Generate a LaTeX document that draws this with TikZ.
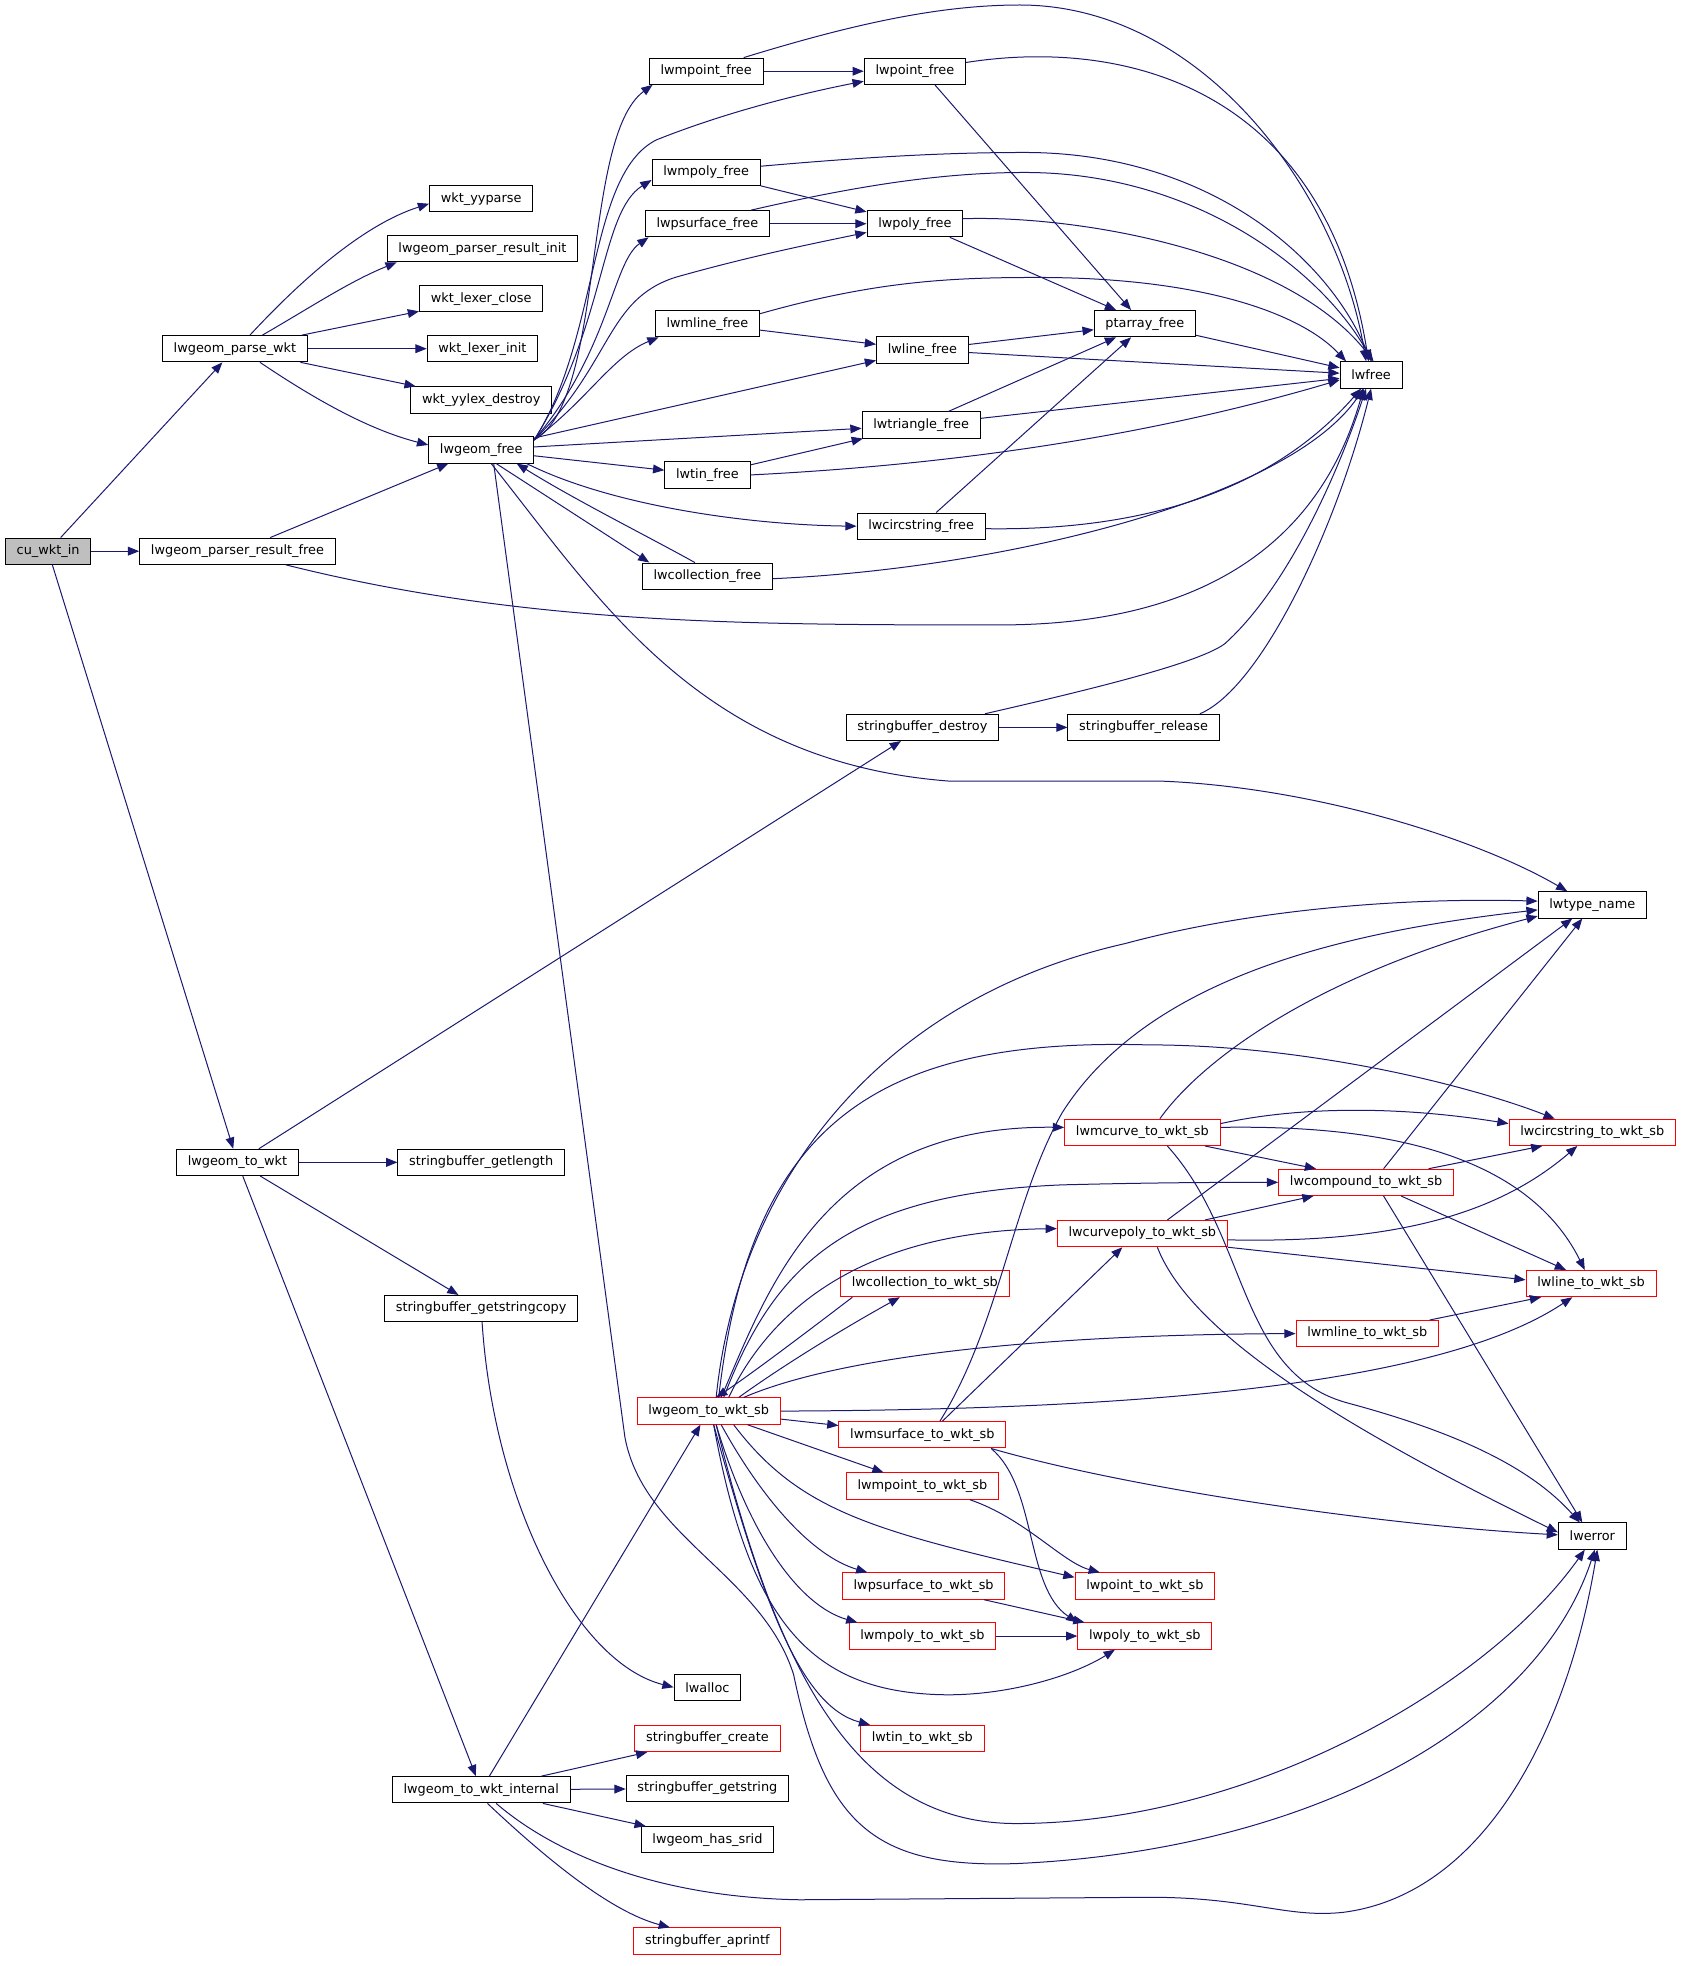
\documentclass[tikz,border=0pt]{standalone}
\usepackage{fontspec}
\setmainfont{DejaVu Sans}
\usepackage{xcolor}
\usetikzlibrary{arrows.meta}
\definecolor{midnightblue}{HTML}{191970}
\tikzset{
  fn/.style={ % a function box of the call graph
    draw=black, fill=white, rectangle, line width=0.8pt,
    inner xsep=9pt, inner ysep=0pt, minimum height=21pt,
    text=black, font=\fontsize{10.3}{12}\selectfont
  },
  redfn/.style={fn, draw=red},  % box of a function with more calls not shown
  rootfn/.style={fn, fill=gray!50},
  calls/.style={
    midnightblue, line width=0.8pt,
    -{Triangle[length=9pt,width=7pt]}
  }
}
\begin{document}
\begin{tikzpicture}[x=1pt, y=-1pt]
  \useasboundingbox (0,0) rectangle (1350,1573);

  % nodes
  \node[rootfn] (cu) at (38.5,441) {cu\_wkt\_in};
  \node[fn] (parsewkt) at (188,279) {lwgeom\_parse\_wkt};
  \node[fn] (prfree) at (190,441) {lwgeom\_parser\_result\_free};
  \node[fn] (towkt) at (190,930) {lwgeom\_to\_wkt};
  \node[fn] (yyparse) at (385,159) {wkt\_yyparse};
  \node[fn] (prinit) at (386,199) {lwgeom\_parser\_result\_init};
  \node[fn] (lexclose) at (385,239) {wkt\_lexer\_close};
  \node[fn] (lexinit) at (386,279) {wkt\_lexer\_init};
  \node[fn] (yylexdestroy) at (385,320) {wkt\_yylex\_destroy};
  \node[fn] (gfree) at (385,360) {lwgeom\_free};
  \node[fn] (getlength) at (385,930) {stringbuffer\_getlength};
  \node[fn] (getstrcopy) at (385,1047) {stringbuffer\_getstringcopy};
  \node[fn] (towktint) at (385,1432) {lwgeom\_to\_wkt\_internal};
  \node[fn] (mpointfree) at (565,57) {lwmpoint\_free};
  \node[fn] (mpolyfree) at (565,138) {lwmpoly\_free};
  \node[fn] (psurffree) at (566,179) {lwpsurface\_free};
  \node[fn] (mlinefree) at (566,259) {lwmline\_free};
  \node[fn] (tinfree) at (566,380) {lwtin\_free};
  \node[fn] (collfree) at (566,461) {lwcollection\_free};
  \node[redfn] (towktsb) at (567,1129) {lwgeom\_to\_wkt\_sb};
  \node[fn] (lwalloc) at (566,1350) {lwalloc};
  \node[redfn] (sbcreate) at (566,1391) {stringbuffer\_create};
  \node[fn] (getstring) at (566,1431) {stringbuffer\_getstring};
  \node[fn] (hassrid) at (566,1472) {lwgeom\_has\_srid};
  \node[redfn] (aprintf) at (566,1553) {stringbuffer\_aprintf};
  \node[fn] (pointfree) at (732,57) {lwpoint\_free};
  \node[fn] (polyfree) at (732,179) {lwpoly\_free};
  \node[fn] (linefree) at (738,280) {lwline\_free};
  \node[fn] (trifree) at (737,340) {lwtriangle\_free};
  \node[fn] (circfree) at (737,421) {lwcircstring\_free};
  \node[fn] (sbdestroy) at (738,582) {stringbuffer\_destroy};
  \node[fn] (sbrelease) at (915,582) {stringbuffer\_release};
  \node[redfn] (collwkt) at (740,1027) {lwcollection\_to\_wkt\_sb};
  \node[redfn] (msurfwkt) at (738,1148) {lwmsurface\_to\_wkt\_sb};
  \node[redfn] (mpointwkt) at (738,1189) {lwmpoint\_to\_wkt\_sb};
  \node[redfn] (psurfwkt) at (739,1269) {lwpsurface\_to\_wkt\_sb};
  \node[redfn] (mpolywkt) at (738,1309) {lwmpoly\_to\_wkt\_sb};
  \node[redfn] (tinwkt) at (738,1391) {lwtin\_to\_wkt\_sb};
  \node[redfn] (mcurvewkt) at (914,906) {lwmcurve\_to\_wkt\_sb};
  \node[redfn] (cpolywkt) at (914,987) {lwcurvepoly\_to\_wkt\_sb};
  \node[fn] (ptarray) at (916,259) {ptarray\_free};
  \node[redfn] (pointwkt) at (916,1269) {lwpoint\_to\_wkt\_sb};
  \node[redfn] (polywkt) at (916,1309) {lwpoly\_to\_wkt\_sb};
  \node[redfn] (compwkt) at (1093,946) {lwcompound\_to\_wkt\_sb};
  \node[redfn] (mlinewkt) at (1094,1067) {lwmline\_to\_wkt\_sb};
  \node[fn] (lwfree) at (1097,300) {lwfree};
  \node[fn] (tname) at (1274,724) {lwtype\_name};
  \node[redfn] (circwkt) at (1274,906) {lwcircstring\_to\_wkt\_sb};
  \node[redfn] (linewkt) at (1273,1027) {lwline\_to\_wkt\_sb};
  \node[fn] (lwerror) at (1274,1229) {lwerror};

  % cu_wkt_in and the parser
  \draw[calls] (cu) -- (parsewkt);
  \draw[calls] (cu) -- (prfree);
  \draw[calls] (cu) -- (towkt);
  \draw[calls] ([xshift=12pt]parsewkt.north) .. controls (240,225) and (290,180) .. ([yshift=-4pt]yyparse.west);
  \draw[calls] ([xshift=22pt]parsewkt.north) .. controls (250,245) and (280,225) .. ([xshift=8pt]prinit.south west);
  \draw[calls] (parsewkt) -- (lexclose);
  \draw[calls] (parsewkt) -- (lexinit);
  \draw[calls] (parsewkt) -- (yylexdestroy);
  \draw[calls] ([xshift=20pt]parsewkt.south) .. controls (260,325) and (300,345) .. ([yshift=4pt]gfree.west);
  \draw[calls] (prfree) -- (gfree);
  \draw[calls] ([xshift=-40pt]prfree.south east) .. controls (420,500) and (600,500) .. (800,500) .. controls (980,500) and (1060,420) .. ([xshift=-6pt]lwfree.south);

  % lwgeom_free
  \draw[calls] ([yshift=8pt]gfree.east) .. controls (485,320) and (465,110) .. ([xshift=3pt]mpointfree.south west);
  \draw[calls] ([yshift=8pt]gfree.east) .. controls (480,270) and (470,140) .. (525,112) .. controls (580,90) and (640,75) .. ([yshift=-8pt]pointfree.west);
  \draw[calls] ([yshift=8pt]gfree.east) .. controls (485,260) and (480,170) .. ([yshift=-6pt]mpolyfree.west);
  \draw[calls] ([yshift=8pt]gfree.east) .. controls (488,280) and (490,210) .. ([xshift=3pt]psurffree.south west);
  \draw[calls] ([yshift=8pt]gfree.east) .. controls (490,290) and (485,240) .. (540,222) .. controls (600,205) and (650,195) .. ([yshift=-7pt]polyfree.west);
  \draw[calls] ([yshift=8pt]gfree.east) .. controls (470,320) and (490,285) .. ([xshift=3pt]mlinefree.south west);
  \draw[calls] (gfree) -- (linefree);
  \draw[calls] (gfree) -- (trifree);
  \draw[calls] (gfree) -- (tinfree);
  \draw[calls] ([xshift=-6pt]gfree.south east) .. controls (490,405) and (600,420) .. (circfree.west);
  \draw[calls] ([xshift=12pt]gfree.south) -- ([xshift=6pt]collfree.north west);
  \draw[calls] ([xshift=-10pt]collfree.north) .. controls (520,430) and (460,400) .. ([xshift=-14pt]gfree.south east);
  \draw[calls] ([xshift=8pt]gfree.south) .. controls (480,480) and (560,610) .. (760,625) -- (930,625) .. controls (1050,630) and (1180,670) .. ([xshift=-20pt]tname.north);
  \draw[calls] ([xshift=10pt]gfree.south) -- (500,1150) .. controls (515,1230) and (610,1260) .. (635,1340) .. controls (660,1460) and (700,1495) .. (814,1491) .. controls (1050,1480) and (1230,1380) .. ([xshift=2pt]lwerror.south);

  % the free functions
  \draw[calls] (mpointfree) -- (pointfree);
  \draw[calls] ([xshift=30pt]mpointfree.north) .. controls (680,20) and (750,4) .. (816,4) .. controls (960,4) and (1070,150) .. ([xshift=-4pt]lwfree.north);
  \draw[calls] ([yshift=7pt]pointfree.east) .. controls (900,30) and (1060,70) .. ([xshift=-2pt]lwfree.north);
  \draw[calls] ([xshift=16pt]pointfree.south) -- ([xshift=-11pt]ptarray.north);
  \draw[calls] (mpolyfree) -- (polyfree);
  \draw[calls] ([yshift=5pt]mpolyfree.east) .. controls (700,125) and (760,122) .. (820,122) .. controls (960,122) and (1060,200) .. (lwfree.north);
  \draw[calls] (psurffree) -- (polyfree);
  \draw[calls] ([xshift=-15pt]psurffree.north east) .. controls (680,150) and (750,138) .. (820,138) .. controls (960,138) and (1060,220) .. ([xshift=1pt]lwfree.north);
  \draw[calls] ([yshift=4pt]polyfree.east) .. controls (860,172) and (1030,200) .. ([xshift=2pt]lwfree.north);
  \draw[calls] ([xshift=28pt]polyfree.south) -- ([xshift=-23pt]ptarray.north);
  \draw[calls] (mlinefree) -- (linefree);
  \draw[calls] ([yshift=8pt]mlinefree.east) .. controls (700,225) and (760,222) .. (830,222) .. controls (960,222) and (1040,250) .. ([xshift=-20pt]lwfree.north);
  \draw[calls] (linefree) -- (ptarray);
  \draw[calls] (linefree) -- (lwfree);
  \draw[calls] (ptarray) -- (lwfree);
  \draw[calls] ([xshift=22pt]trifree.north) -- ([xshift=-23pt]ptarray.south);
  \draw[calls] (trifree) -- (lwfree);
  \draw[calls] (tinfree) -- (trifree);
  \draw[calls] (tinfree.east) .. controls (800,370) and (950,340) .. ([yshift=-4pt]lwfree.west);
  \draw[calls] ([xshift=12pt]circfree.north) -- ([xshift=-11pt]ptarray.south);
  \draw[calls] ([yshift=-2pt]circfree.east) .. controls (920,425) and (1020,390) .. ([xshift=-8pt]lwfree.south);
  \draw[calls] ([yshift=-2pt]collfree.east) .. controls (800,455) and (1030,400) .. ([xshift=-6pt]lwfree.south);
  \draw[calls] (sbdestroy) -- (sbrelease);
  \draw[calls] ([xshift=50pt]sbdestroy.north) .. controls (880,550) and (960,530) .. (980,515) .. controls (1030,470) and (1070,380) .. ([xshift=-4pt]lwfree.south);
  \draw[calls] ([xshift=45pt]sbrelease.north) .. controls (1010,550) and (1070,420) .. (lwfree.south);

  % lwgeom_to_wkt
  \draw[calls] (towkt) -- (sbdestroy);
  \draw[calls] (towkt) -- (getlength);
  \draw[calls] (towkt) -- (getstrcopy);
  \draw[calls] (towkt) -- (towktint);
  \draw[calls] (getstrcopy) .. controls (395,1200) and (460,1330) .. (lwalloc.west);
  \draw[calls] (towktint) -- (towktsb);
  \draw[calls] (towktint) -- (sbcreate);
  \draw[calls] (towktint) -- (getstring);
  \draw[calls] (towktint) -- (hassrid);
  \draw[calls] ([xshift=5pt]towktint.south) .. controls (440,1490) and (490,1530) .. ([xshift=-30pt]aprintf.north);
  \draw[calls] ([xshift=12pt]towktint.south) .. controls (440,1480) and (520,1518) .. (640,1520) -- (920,1518) .. controls (1000,1518) and (1030,1535) .. (1075,1530) .. controls (1190,1515) and (1255,1380) .. ([xshift=4pt]lwerror.south);

  % lwgeom_to_wkt_sb
  \draw[calls] ([xshift=6pt]towktsb.north) .. controls (590,950) and (700,800) .. (900,755) .. controls (1000,728) and (1120,718) .. ([yshift=3pt]tname.west);
  \draw[calls] ([xshift=8pt]towktsb.north) .. controls (600,900) and (700,830) .. (918,836) .. controls (1050,836) and (1180,870) .. ([xshift=-30pt]circwkt.north);
  \draw[calls] ([xshift=10pt]towktsb.north) .. controls (615,1030) and (660,900) .. ([yshift=4pt]mcurvewkt.west);
  \draw[calls] ([xshift=12pt]towktsb.north) .. controls (620,1010) and (680,955) .. (850,948) .. controls (930,946) and (980,946) .. (compwkt.west);
  \draw[calls] ([xshift=16pt]towktsb.north) .. controls (620,1040) and (700,985) .. ([yshift=4pt]cpolywkt.west);
  \draw[calls] ([xshift=24pt]towktsb.north) .. controls (630,1090) and (680,1060) .. ([xshift=-20pt]collwkt.south);
  \draw[calls] ([xshift=-58pt]collwkt.south) .. controls (640,1070) and (600,1100) .. ([xshift=6pt]towktsb.north);
  \draw[calls] ([xshift=28pt]towktsb.north) .. controls (660,1090) and (800,1068) .. (mlinewkt.west);
  \draw[calls] (towktsb.east) .. controls (900,1128) and (1150,1110) .. ([xshift=-15pt]linewkt.south);
  \draw[calls] (towktsb) -- (msurfwkt);
  \draw[calls] (towktsb) -- (mpointwkt);
  \draw[calls] ([xshift=20pt]towktsb.south) .. controls (640,1210) and (700,1225) .. ([yshift=7pt]pointwkt.west);
  \draw[calls] ([xshift=10pt]towktsb.south) .. controls (610,1200) and (650,1245) .. ([xshift=-45pt]psurfwkt.north);
  \draw[calls] ([xshift=6pt]towktsb.south) .. controls (600,1230) and (640,1285) .. ([xshift=-52pt]mpolywkt.north);
  \draw[calls] ([xshift=4pt]towktsb.south) .. controls (600,1300) and (650,1355) .. (758,1356) .. controls (810,1356) and (860,1340) .. ([xshift=-24pt]polywkt.south);
  \draw[calls] ([xshift=4pt]towktsb.south) .. controls (610,1280) and (640,1365) .. ([xshift=8pt]tinwkt.north west);
  \draw[calls] ([xshift=6pt]towktsb.south) .. controls (620,1330) and (680,1459) .. (813,1459) .. controls (1000,1459) and (1190,1350) .. ([xshift=-6pt]lwerror.south);

  % the to_wkt_sb writers
  \draw[calls] ([xshift=14pt]msurfwkt.north) .. controls (800,1060) and (810,960) .. (850,890) .. controls (920,780) and (1080,745) .. ([yshift=-4pt]tname.west);
  \draw[calls] ([xshift=16pt]msurfwkt.north) -- ([xshift=-16pt]cpolywkt.south);
  \draw[calls] ([xshift=55pt]msurfwkt.south) .. controls (830,1190) and (820,1270) .. (polywkt.north west);
  \draw[calls] ([xshift=55pt]msurfwkt.south) .. controls (900,1190) and (1100,1220) .. ([yshift=1pt]lwerror.west);
  \draw[calls] ([xshift=38pt]mpointwkt.south) .. controls (820,1215) and (850,1250) .. ([xshift=-36pt]pointwkt.north);
  \draw[calls] (psurfwkt) -- (polywkt);
  \draw[calls] (mpolywkt) -- (polywkt);
  \draw[calls] ([xshift=14pt]mcurvewkt.north) .. controls (960,850) and (1050,780) .. ([yshift=-9pt]tname.west);
  \draw[calls] ([yshift=7pt]mcurvewkt.east) .. controls (1040,885) and (1120,885) .. ([yshift=7pt]circwkt.west);
  \draw[calls] ([xshift=50pt]mcurvewkt.south) -- ([xshift=-40pt]compwkt.north);
  \draw[calls] ([yshift=4pt]mcurvewkt.east) .. controls (1100,900) and (1220,920) .. ([xshift=-5pt]linewkt.north);
  \draw[calls] ([xshift=20pt]mcurvewkt.south) .. controls (1000,990) and (990,1100) .. (1080,1123) .. controls (1180,1150) and (1230,1180) .. ([xshift=-10pt]lwerror.north);
  \draw[calls] ([xshift=20pt]cpolywkt.north) -- ([xshift=-16pt]tname.south);
  \draw[calls] ([xshift=50pt]cpolywkt.north) -- ([xshift=-42pt]compwkt.south);
  \draw[calls] ([yshift=-5pt]cpolywkt.east) .. controls (1120,995) and (1200,970) .. ([xshift=-12pt]circwkt.south);
  \draw[calls] (cpolywkt.south east) -- ([yshift=3pt]linewkt.west);
  \draw[calls] ([xshift=12pt]cpolywkt.south) .. controls (950,1060) and (1050,1130) .. ([yshift=3pt]lwerror.west);
  \draw[calls] ([xshift=14pt]compwkt.north) -- ([xshift=-8pt]tname.south);
  \draw[calls] ([xshift=50pt]compwkt.north) -- ([xshift=-40pt]circwkt.south);
  \draw[calls] ([xshift=28pt]compwkt.south) -- ([xshift=-20pt]linewkt.north);
  \draw[calls] ([xshift=14pt]compwkt.south) -- ([xshift=-8pt]lwerror.north);
  \draw[calls] ([xshift=50pt]mlinewkt.north) -- ([xshift=-40pt]linewkt.south);
\end{tikzpicture}
\end{document}
